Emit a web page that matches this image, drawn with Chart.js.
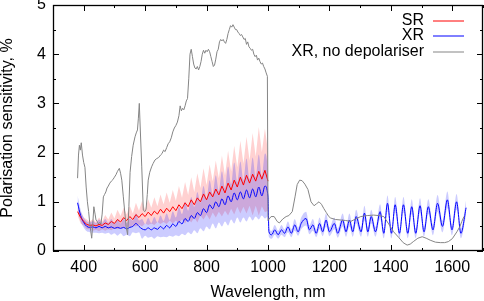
<!DOCTYPE html>
<html>
<head>
<meta charset="utf-8">
<script src="https://cdn.jsdelivr.net/npm/chart.js@4.4.1/dist/chart.umd.min.js"></script>
<style>
  html, body { margin: 0; padding: 0; background: #fff; }
  canvas { display: block; }
</style>
</head>
<body>
<canvas id="c" width="484" height="301"></canvas>
<script>
// wavelengths of the visible channel (nm)
var wlVis = [380, 390, 400, 410, 420, 430, 440, 450, 460, 470,
             480, 490, 500, 510, 520, 530, 540, 550, 560, 570,
             580, 590, 600, 610, 620, 630, 640, 650, 660, 670,
             680, 690, 700, 710, 720, 730, 740, 750, 760, 770,
             780, 790, 800, 810, 820, 830, 840, 850, 860, 870,
             880, 890, 900, 910, 920, 930, 940, 950, 960, 970,
             980, 990, 1000];

// SR, polarisation sensitivity (%) and its spread
var srMean = [0.80, 0.68, 0.60, 0.54, 0.52, 0.53, 0.51, 0.54, 0.52, 0.57,
              0.54, 0.60, 0.56, 0.64, 0.59, 0.68, 0.62, 0.70, 0.64, 0.74,
              0.68, 0.76, 0.70, 0.79, 0.72, 0.81, 0.75, 0.85, 0.77, 0.87,
              0.80, 0.90, 0.82, 0.94, 0.86, 0.98, 0.90, 1.04, 0.94, 1.08,
              1.00, 1.16, 1.04, 1.20, 1.10, 1.26, 1.14, 1.32, 1.18, 1.38,
              1.24, 1.44, 1.30, 1.50, 1.34, 1.54, 1.38, 1.56, 1.42, 1.62,
              1.46, 1.64, 1.42];
var srErr = [0.08, 0.12, 0.08, 0.10, 0.08, 0.12, 0.08, 0.14, 0.08, 0.16,
             0.10, 0.18, 0.10, 0.20, 0.12, 0.20, 0.12, 0.22, 0.12, 0.24,
             0.14, 0.26, 0.14, 0.26, 0.16, 0.28, 0.16, 0.30, 0.18, 0.32,
             0.18, 0.34, 0.20, 0.38, 0.22, 0.42, 0.24, 0.46, 0.26, 0.50,
             0.28, 0.52, 0.30, 0.56, 0.32, 0.58, 0.34, 0.62, 0.36, 0.66,
             0.38, 0.70, 0.40, 0.74, 0.44, 0.78, 0.46, 0.84, 0.50, 0.90,
             0.55, 0.85, 0.60];

// XR, visible part
var xrMean = [0.98, 0.72, 0.58, 0.50, 0.48, 0.49, 0.47, 0.50, 0.47, 0.50,
              0.47, 0.49, 0.46, 0.48, 0.46, 0.48, 0.45, 0.48, 0.50, 0.56,
              0.50, 0.45, 0.43, 0.47, 0.43, 0.47, 0.44, 0.50, 0.45, 0.52,
              0.47, 0.55, 0.50, 0.60, 0.55, 0.66, 0.60, 0.72, 0.66, 0.78,
              0.72, 0.86, 0.78, 0.94, 0.86, 1.00, 0.90, 1.06, 0.94, 1.12,
              1.00, 1.18, 1.04, 1.20, 1.06, 1.24, 1.08, 1.26, 1.10, 1.30,
              1.12, 1.32, 1.10];
var xrErr = [0.15, 0.12, 0.10, 0.10, 0.10, 0.12, 0.10, 0.14, 0.10, 0.15,
             0.10, 0.16, 0.10, 0.17, 0.10, 0.18, 0.12, 0.18, 0.12, 0.20,
             0.12, 0.20, 0.12, 0.20, 0.14, 0.22, 0.14, 0.22, 0.16, 0.24,
             0.16, 0.26, 0.18, 0.30, 0.20, 0.34, 0.22, 0.38, 0.24, 0.42,
             0.26, 0.46, 0.28, 0.50, 0.30, 0.54, 0.32, 0.56, 0.34, 0.60,
             0.36, 0.62, 0.36, 0.62, 0.38, 0.64, 0.38, 0.64, 0.40, 0.66,
             0.40, 0.66, 0.40];

// XR, infrared part
var wlNir = [1003, 1012, 1022, 1033, 1044, 1054, 1065, 1076, 1087, 1098,
             1108, 1124, 1135, 1146, 1157, 1168, 1178, 1189, 1200, 1216,
             1227, 1243, 1254, 1265, 1276, 1287, 1303, 1314, 1325, 1336,
             1350, 1365, 1377, 1389, 1402, 1414, 1428, 1441, 1455, 1468,
             1481, 1495, 1508, 1522, 1537, 1552, 1568, 1584, 1599, 1614,
             1628, 1645];
var xrNir = [0.39, 0.33, 0.43, 0.33, 0.43, 0.36, 0.49, 0.36, 0.53, 0.39,
             0.56, 0.66, 0.43, 0.53, 0.36, 0.56, 0.39, 0.63, 0.39, 0.56,
             0.36, 0.63, 0.39, 0.63, 0.39, 0.70, 0.39, 0.77, 0.39, 0.70,
             0.39, 0.80, 0.36, 0.97, 0.36, 0.94, 0.36, 0.94, 0.36, 0.90,
             0.36, 0.92, 0.39, 0.90, 0.43, 0.97, 0.50, 1.04, 0.43, 1.00,
             0.36, 0.88];
var xrNirErr = [0.10, 0.08, 0.10, 0.08, 0.10, 0.08, 0.11, 0.08, 0.12, 0.08,
                0.12, 0.14, 0.09, 0.12, 0.08, 0.12, 0.09, 0.13, 0.09, 0.12,
                0.09, 0.13, 0.10, 0.13, 0.10, 0.14, 0.10, 0.15, 0.10, 0.14,
                0.10, 0.15, 0.10, 0.16, 0.10, 0.16, 0.10, 0.16, 0.10, 0.15,
                0.10, 0.15, 0.10, 0.15, 0.11, 0.17, 0.12, 0.17, 0.11, 0.16,
                0.10, 0.15];

// XR without depolariser
var wlGrey = [380, 383, 386, 389, 392, 396, 400, 404, 408, 412,
              416, 420, 423, 426, 429, 433, 437, 440, 444, 448,
              452, 456, 460, 464, 468, 472, 476, 480, 485, 490,
              495, 500, 505, 510, 516, 520, 524, 529, 534, 538,
              543, 547, 551, 556, 561, 567, 571, 575, 578, 581,
              584, 589, 594, 599, 603, 607, 610, 615, 621, 626,
              632, 638, 644, 650, 655, 660, 665, 670, 675, 680,
              685, 690, 695, 700, 705, 710, 714, 718, 722, 726,
              730, 734, 738, 742, 746, 750, 754, 758, 762, 766,
              770, 774, 778, 782, 786, 790, 794, 798, 802, 806,
              810, 814, 818, 822, 826, 830, 834, 838, 842, 846,
              850, 854, 858, 862, 866, 870, 874, 878, 882, 886,
              890, 894, 898, 902, 906, 910, 914, 918, 922, 926,
              930, 934, 938, 942, 946, 950, 954, 958, 962, 966,
              970, 974, 978, 982, 986, 990, 994, 998, 1000, 1010,
              1020, 1030, 1037, 1048, 1059, 1068, 1079, 1088, 1095, 1103,
              1111, 1120, 1130, 1140, 1150, 1158, 1166, 1174, 1182, 1190,
              1198, 1204, 1220, 1237, 1253, 1269, 1285, 1302, 1323, 1344,
              1360, 1377, 1393, 1409, 1425, 1440, 1453, 1463, 1473, 1488,
              1502, 1515, 1528, 1545, 1561, 1575, 1587, 1600, 1615, 1625,
              1631, 1638];
var noDepol = [1.48, 1.95, 2.15, 2.05, 2.20, 1.95, 1.80, 1.70, 1.30, 1.00,
               0.80, 0.55, 0.40, 0.26, 0.50, 0.90, 0.75, 0.63, 0.60, 0.55,
               0.58, 0.55, 0.75, 1.10, 1.15, 1.20, 1.28, 1.32, 1.38, 1.42,
               1.45, 1.50, 1.55, 1.62, 1.68, 1.58, 1.44, 1.10, 0.77, 0.50,
               0.33, 0.90, 1.60, 1.92, 2.15, 2.32, 2.40, 2.46, 2.70, 3.00,
               2.50, 1.71, 0.83, 0.80, 0.85, 1.15, 1.44, 1.60, 1.71, 1.78,
               1.85, 1.88, 1.90, 1.95, 1.98, 2.05, 2.02, 2.10, 2.18, 2.22,
               2.30, 2.42, 2.50, 2.55, 2.62, 2.75, 2.95, 2.85, 2.90, 2.87,
               2.95, 3.05, 3.10, 3.50, 4.00, 4.10, 3.95, 3.80, 3.72, 3.70,
               3.75, 3.68, 3.75, 3.85, 4.00, 4.08, 4.02, 4.08, 4.05, 4.10,
               4.05, 3.95, 3.85, 3.75, 3.78, 3.90, 4.05, 4.10, 4.25, 4.30,
               4.27, 4.30, 4.25, 4.22, 4.30, 4.42, 4.50, 4.58, 4.55, 4.60,
               4.55, 4.50, 4.50, 4.45, 4.42, 4.38, 4.40, 4.35, 4.30, 4.32,
               4.20, 4.25, 4.15, 4.12, 4.08, 4.10, 4.00, 3.95, 3.98, 3.88,
               3.92, 3.85, 3.80, 3.82, 3.75, 3.70, 3.62, 3.55, 0.62, 0.70,
               0.70, 0.60, 0.57, 0.65, 0.70, 0.72, 0.80, 1.10, 1.35, 1.44,
               1.43, 1.36, 1.25, 1.00, 0.92, 0.96, 1.00, 0.95, 0.86, 0.78,
               0.70, 0.67, 0.64, 0.63, 0.62, 0.60, 0.65, 0.70, 0.72, 0.73,
               0.72, 0.70, 0.55, 0.39, 0.28, 0.17, 0.12, 0.14, 0.19, 0.26,
               0.29, 0.26, 0.22, 0.18, 0.17, 0.17, 0.19, 0.25, 0.39, 0.50,
               0.60, 0.70];

var xTicks = [400, 600, 800, 1000, 1200, 1400, 1600];
var xMinor = [300, 500, 700, 900, 1100, 1300, 1500, 1700];
var yTicks = [0, 1, 2, 3, 4, 5];
var yMinor = [0.5, 1.5, 2.5, 3.5, 4.5];

var legendNames = ['SR', 'XR', 'XR, no depolariser'];
var lineColours = ['#ff0000', '#0000ff', '#858585'];

function pts(xs, ys) {
  var out = [];
  for (var i = 0; i < xs.length; i++) out.push({x: xs[i], y: ys[i]});
  return out;
}
function band(xs, ys, err, sign) {
  var out = [];
  for (var i = 0; i < xs.length; i++) out.push({x: xs[i], y: ys[i] + sign * err[i]});
  return out;
}

var xrWl = wlVis.concat(wlNir);
var xrAll = xrMean.concat(xrNir);
var xrErrAll = xrErr.concat(xrNirErr);

var FONT = '"Liberation Sans", Arial, Helvetica, sans-serif';
Chart.defaults.font.family = FONT;
Chart.defaults.color = '#000';

// frame, inward ticks on all sides, and the legend
var frame = {
  id: 'frame',
  afterDraw: function(chart) {
    var ctx = chart.ctx, a = chart.chartArea;
    var xs = chart.scales.x, ys = chart.scales.y;
    ctx.save();
    ctx.strokeStyle = '#000';
    ctx.lineWidth = 1;
    ctx.beginPath();
    function tickX(v, len) {
      var p = Math.round(xs.getPixelForValue(v)) + 0.5;
      ctx.moveTo(p, a.bottom); ctx.lineTo(p, a.bottom - len);
      ctx.moveTo(p, a.top); ctx.lineTo(p, a.top + len);
    }
    function tickY(v, len) {
      var p = Math.round(ys.getPixelForValue(v)) + 0.5;
      ctx.moveTo(a.left, p); ctx.lineTo(a.left + len, p);
      ctx.moveTo(a.right, p); ctx.lineTo(a.right - len, p);
    }
    xTicks.forEach(function(v) { tickX(v, 6); });
    xMinor.forEach(function(v) { tickX(v, 3); });
    yTicks.forEach(function(v) { tickY(v, 6); });
    yMinor.forEach(function(v) { tickY(v, 3); });
    ctx.stroke();
    ctx.lineWidth = 1.3;
    ctx.strokeRect(a.left + 0.5, a.top + 0.5, a.right - a.left - 1, a.bottom - a.top - 1);

    ctx.font = '16px ' + FONT;
    ctx.textAlign = 'right';
    ctx.textBaseline = 'middle';
    var rows = [21, 36, 52];
    for (var i = 0; i < legendNames.length; i++) {
      ctx.fillStyle = '#000';
      ctx.fillText(legendNames[i], 424, rows[i]);
      ctx.beginPath();
      ctx.strokeStyle = lineColours[i];
      ctx.lineWidth = 1;
      ctx.moveTo(433, rows[i]);
      ctx.lineTo(464, rows[i]);
      ctx.stroke();
    }
    ctx.restore();
  }
};

function plain(v) { return String(v); }

new Chart(document.getElementById('c'), {
  type: 'line',
  data: {
    datasets: [
      { data: pts(wlGrey, noDepol), borderColor: lineColours[2], borderWidth: 1, pointRadius: 0, fill: false, order: 0 },
      { data: pts(wlVis, srMean), borderColor: lineColours[0], borderWidth: 1, pointRadius: 0, fill: false, order: 1 },
      { data: pts(xrWl, xrAll), borderColor: lineColours[1], borderWidth: 1, pointRadius: 0, fill: false, order: 2, cubicInterpolationMode: 'monotone' },
      { data: band(wlVis, srMean, srErr, 1), borderWidth: 0, borderColor: 'rgba(0,0,0,0)', pointRadius: 0, fill: '+1', backgroundColor: 'rgba(255,0,0,0.18)', order: 20 },
      { data: band(wlVis, srMean, srErr, -1), borderWidth: 0, borderColor: 'rgba(0,0,0,0)', pointRadius: 0, fill: false, order: 21 },
      { data: band(xrWl, xrAll, xrErrAll, 1), borderWidth: 0, borderColor: 'rgba(0,0,0,0)', pointRadius: 0, fill: '+1', backgroundColor: 'rgba(0,0,255,0.2)', order: 10, cubicInterpolationMode: 'monotone' },
      { data: band(xrWl, xrAll, xrErrAll, -1), borderWidth: 0, borderColor: 'rgba(0,0,0,0)', pointRadius: 0, fill: false, order: 11, cubicInterpolationMode: 'monotone' }
    ]
  },
  options: {
    responsive: false,
    animation: false,
    events: [],
    layout: { padding: { left: 0, right: 1, top: 5, bottom: 0 } },
    plugins: { legend: { display: false }, tooltip: { enabled: false } },
    scales: {
      x: {
        type: 'linear', min: 300, max: 1700,
        grid: { display: false, drawTicks: false },
        border: { display: false },
        ticks: { font: { size: 16 }, padding: 7, maxRotation: 0, callback: plain },
        title: { display: true, text: 'Wavelength, nm', font: { size: 16, lineHeight: 1 }, padding: 0 },
        afterBuildTicks: function(s) { s.ticks = xTicks.map(function(v) { return {value: v}; }); },
        afterFit: function(s) { s.height = 50; s.paddingLeft = 0; s.paddingRight = 0; }
      },
      y: {
        type: 'linear', min: 0, max: 5,
        grid: { display: false, drawTicks: false },
        border: { display: false },
        ticks: { font: { size: 16 }, padding: 7, callback: plain },
        title: { display: true, text: 'Polarisation sensitivity, %', font: { size: 16, lineHeight: 1 }, padding: 0 },
        afterBuildTicks: function(s) { s.ticks = yTicks.map(function(v) { return {value: v}; }); },
        afterFit: function(s) { s.width = 53; s.paddingTop = 0; s.paddingBottom = 0; }
      }
    }
  },
  plugins: [frame]
});
</script>
</body>
</html>
